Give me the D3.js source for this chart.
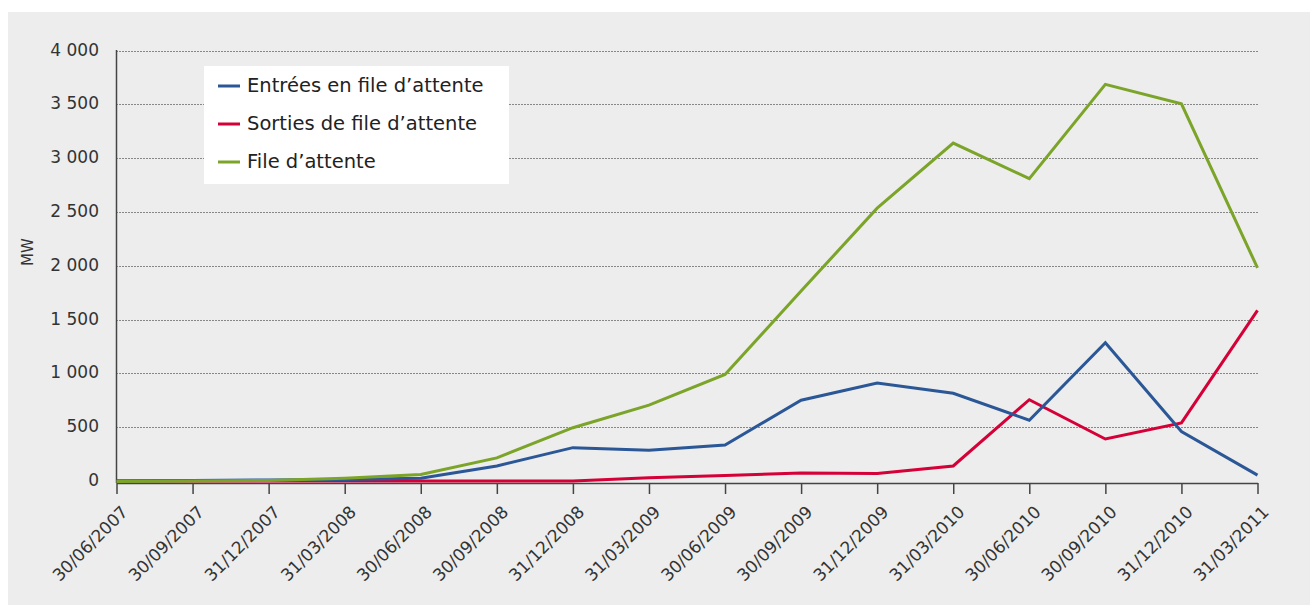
<!DOCTYPE html>
<html>
<head>
<meta charset="utf-8">
<script src="https://cdn.jsdelivr.net/npm/d3@7"></script>
<style>
  body { margin: 0; background: #fff; }
  svg { display: block; font-family: "DejaVu Sans", sans-serif; }
</style>
</head>
<body>
<svg id="chart" width="1310" height="605"></svg>
<script>
// quarter-end dates (x categories)
var dates = ['30/06/2007', '30/09/2007', '31/12/2007', '31/03/2008', '30/06/2008', '30/09/2008',
    '31/12/2008', '31/03/2009', '30/06/2009', '30/09/2009', '31/12/2009', '31/03/2010',
    '30/06/2010', '30/09/2010', '31/12/2010', '31/03/2011'];

// MW values
var entrees = [0, 5, 10, 15, 25, 140, 310, 285, 335, 750, 910, 815, 565, 1285, 460, 55];
var sorties = [0, 0, 0, 0, 0, 0, 0, 30, 50, 75, 70, 140, 755, 390, 540, 1585];
var fileAttente = [-5, 0, 5, 25, 60, 215, 495, 705, 990, 1765, 2535, 3140, 2810, 3685, 3505, 1980];

var yTicks = [0, 500, 1000, 1500, 2000, 2500, 3000, 3500, 4000];

var series = [
    { name: 'Entrées en file d\u2019attente', values: entrees, color: '#2b5797' },
    { name: 'Sorties de file d\u2019attente', values: sorties, color: '#d50037' },
    { name: 'File d\u2019attente', values: fileAttente, color: '#7ba428' }
];

var width = 1310;
var height = 605;

var svg = d3.select('#chart');

// grey panel
svg.append('rect')
    .attr('x', 8).attr('y', 12)
    .attr('width', width - 8).attr('height', height - 12)
    .attr('fill', '#ecedec');

var x = d3.scalePoint()
    .domain(dates)
    .range([116.5, 1257.5]);

var y = d3.scaleLinear()
    .domain([0, 4000])
    .range([481, 50.5]);

// dotted gridlines
svg.append('g')
    .selectAll('line')
    .data(yTicks.filter(function (d) { return d > 0; }))
    .enter().append('line')
    .attr('x1', x.range()[0]).attr('x2', x.range()[1])
    .attr('y1', function (d) { return Math.round(y(d)) + 0.5; })
    .attr('y2', function (d) { return Math.round(y(d)) + 0.5; })
    .attr('stroke', '#222')
    .attr('stroke-width', 1)
    .attr('stroke-dasharray', '1,2');

// y axis labels
var fmt = function (d) { return d3.format(',')(d).replace(/,/g, ' '); };

svg.append('g')
    .selectAll('text')
    .data(yTicks)
    .enter().append('text')
    .attr('x', 99)
    .attr('y', function (d) { return y(d); })
    .attr('text-anchor', 'end')
    .attr('dominant-baseline', 'middle')
    .attr('font-size', 17)
    .attr('fill', '#333')
    .text(fmt);

svg.append('text')
    .attr('transform', 'translate(33,252) rotate(-90)')
    .attr('text-anchor', 'middle')
    .attr('font-size', 15)
    .attr('fill', '#333')
    .text('MW');

// axis lines
svg.append('line')
    .attr('x1', 116.5).attr('x2', 116.5)
    .attr('y1', 50).attr('y2', 483)
    .attr('stroke', '#444').attr('stroke-width', 1.5);

var xAxis = svg.append('g')
    .attr('transform', 'translate(0,483)')
    .call(d3.axisBottom(x).tickSizeInner(11).tickSizeOuter(0).tickPadding(0));

xAxis.select('.domain').attr('stroke', '#444').attr('stroke-width', 1.5);
xAxis.selectAll('.tick line').attr('stroke', '#444').attr('stroke-width', 1.5);
xAxis.selectAll('.tick text')
    .attr('font-size', 17)
    .attr('font-family', '"DejaVu Sans", sans-serif')
    .attr('fill', '#333')
    .attr('text-anchor', 'end')
    .attr('transform', 'translate(12,30) rotate(-45)')
    .attr('dy', 0)
    .attr('y', 0).attr('x', 0);

// lines
var line = d3.line()
    .x(function (d, i) { return x(dates[i]); })
    .y(function (d) { return y(d); });

var drawOrder = [series[1], series[0], series[2]];
svg.append('g')
    .selectAll('path')
    .data(drawOrder)
    .enter().append('path')
    .attr('d', function (d) { return line(d.values); })
    .attr('fill', 'none')
    .attr('stroke', function (d) { return d.color; })
    .attr('stroke-width', 3)
    .attr('stroke-linejoin', 'miter');

// legend
var legend = svg.append('g');
legend.append('rect')
    .attr('x', 204).attr('y', 66)
    .attr('width', 305).attr('height', 118)
    .attr('fill', '#fff');

var item = legend.selectAll('.item')
    .data(series)
    .enter().append('g')
    .attr('class', 'item')
    .attr('transform', function (d, i) { return 'translate(218,' + (86 + i * 38) + ')'; });

item.append('line')
    .attr('x1', 0).attr('x2', 22)
    .attr('stroke', function (d) { return d.color; })
    .attr('stroke-width', 3);

item.append('text')
    .attr('x', 29)
    .attr('dominant-baseline', 'middle')
    .attr('font-size', 19.5)
    .attr('fill', '#222')
    .text(function (d) { return d.name; });
</script>
</body>
</html>
